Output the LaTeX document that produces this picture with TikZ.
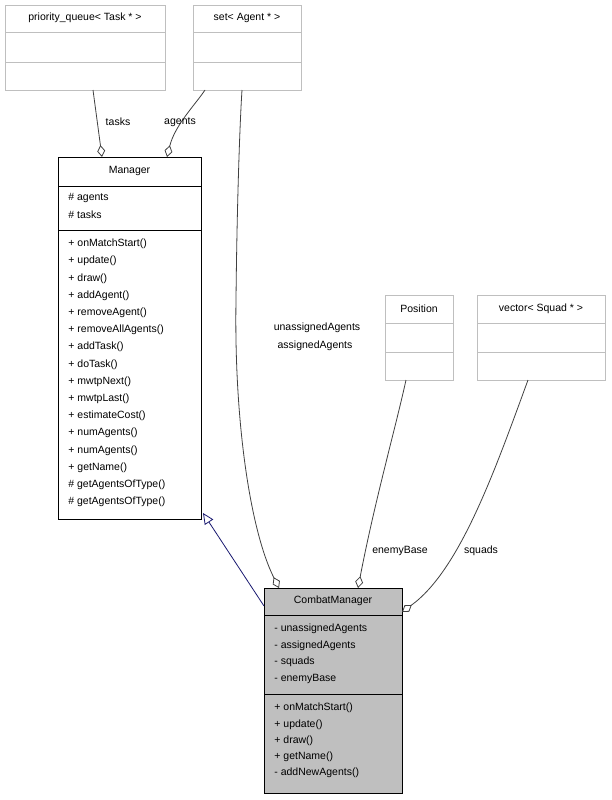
\documentclass[tikz,border=0pt]{standalone}
\usepackage{fontspec}
\setmainfont{Liberation Sans}
\usetikzlibrary{positioning}
\usetikzlibrary{arrows.meta}
\definecolor{boxgray}{HTML}{BFBFBF}
\definecolor{linegray}{HTML}{404040}
\definecolor{navyline}{HTML}{191970}
\tikzset{
    cls/.style = {rectangle,draw,anchor=north west,inner sep=0pt},
    ghost/.style = {cls,draw=boxgray},
    txt/.style = {anchor=west,inner sep=0pt,font=\fontsize{10.5}{12}\selectfont},
    ttl/.style = {inner sep=0pt,font=\fontsize{10.5}{12}\selectfont},
    has/.style = {draw=linegray,{Diamond[open,length=12pt,width=8pt]}-},
    isa/.style = {draw=navyline,{Triangle[open,length=11pt,width=10pt]}-}}
\begin{document}
\begin{tikzpicture}[x=1pt,y=-1pt,line width=0.8pt]
        \useasboundingbox (0,0) rectangle (611,800);
        % external classes
        \node[ghost,minimum width=160pt,minimum height=85pt] (pq) at (5,5) {};
        \draw[boxgray] (5,32) -- (165,32) (5,62) -- (165,62);
        \node[ttl] at (85,18) {priority\_queue< Task * >};
        \node[ghost,minimum width=108pt,minimum height=85pt] (set) at (193,5) {};
        \draw[boxgray] (193,32) -- (301,32) (193,62) -- (301,62);
        \node[ttl] at (247,18) {set< Agent * >};
        \node[ghost,minimum width=68pt,minimum height=85pt] (pos) at (385,295) {};
        \draw[boxgray] (385,323) -- (453,323) (385,352) -- (453,352);
        \node[ttl] at (419,309) {Position};
        \node[ghost,minimum width=128pt,minimum height=85pt] (vec) at (477,295) {};
        \draw[boxgray] (477,323) -- (605,323) (477,352) -- (605,352);
        \node[ttl] at (541,309) {vector< Squad * >};
        % Manager
        \node[cls,minimum width=143pt,minimum height=362pt] (mgr) at (58,157) {};
        \draw (58,186) -- (201,186) (58,230) -- (201,230);
        \node[ttl] at (129.5,171) {Manager};
        \foreach \t [count=\i from 0] in {\# agents,\# tasks}
            \node[txt] at (68,198+16.5*\i) {\t};
        \foreach \t [count=\i from 0] in {+ onMatchStart(),+ update(),+ draw(),+ addAgent(),
            + removeAgent(),+ removeAllAgents(),+ addTask(),+ doTask(),+ mwtpNext(),
            + mwtpLast(),+ estimateCost(),+ numAgents(),+ numAgents(),+ getName(),
            \# getAgentsOfType(),\# getAgentsOfType()}
            \node[txt] at (68,244+17.2*\i) {\t};
        % CombatManager
        \node[cls,fill=boxgray,minimum width=138pt,minimum height=205pt] (cm) at (264,588) {};
        \draw (264,615) -- (402,615) (264,694) -- (402,694);
        \node[ttl] at (333,601) {CombatManager};
        \foreach \t [count=\i from 0] in {- unassignedAgents,- assignedAgents,- squads,- enemyBase}
            \node[txt] at (274,629+16.5*\i) {\t};
        \foreach \t [count=\i from 0] in {+ onMatchStart(),+ update(),+ draw(),+ getName(),- addNewAgents()}
            \node[txt] at (274,708+16.3*\i) {\t};
        % connectors
        \coordinate (pqend) at (93,90);
        \coordinate (setA) at (205,90);
        \coordinate (setB) at (242,90);
        \coordinate (posend) at (406,380);
        \coordinate (vecend) at (528,380);
        \draw[has] (102,157) -- (pqend);
        \draw[has] (167,157) .. controls (175,125) and (195,105) .. (setA);
        \draw[has] (279,588) .. controls (250,530) and (234,420) .. (236,300)
            .. controls (237,200) and (240,120) .. (setB);
        \draw[has] (358,588) .. controls (375,500) and (395,430) .. (posend);
        \draw[has] (402,612) .. controls (460,570) and (495,470) .. (vecend);
        \draw[isa] (203,513) -- (cm.west |- 0,606);
        % labels
        \node[ttl] at (118,122) {tasks};
        \node[ttl] at (180,122) {agents};
        \node[ttl] at (317,328) {unassignedAgents};
        \node[ttl] at (315,346) {assignedAgents};
        \node[ttl] at (400,551) {enemyBase};
        \node[ttl] at (481,551) {squads};
\end{tikzpicture}
\end{document}
